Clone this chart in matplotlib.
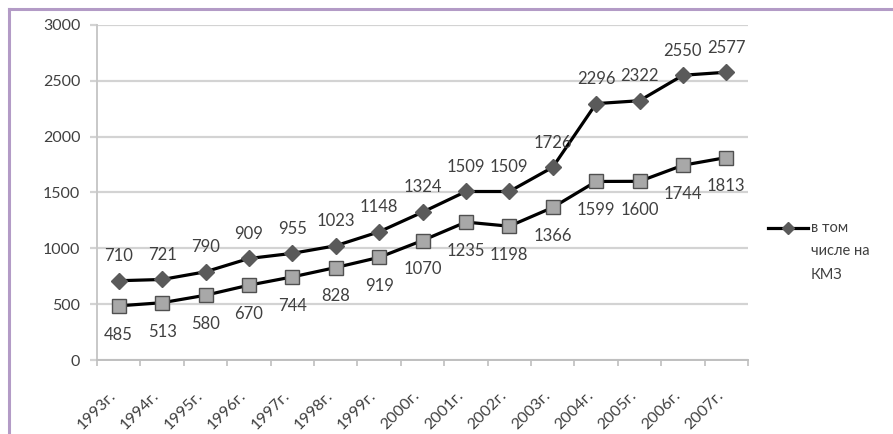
import matplotlib
matplotlib.use("Agg")
import matplotlib.pyplot as plt
import matplotlib.transforms as mtransforms
from matplotlib.lines import Line2D

plt.rcParams['font.family'] = ['Lato', 'DejaVu Sans']

years = ["1993г.", "1994г.", "1995г.", "1996г.", "1997г.", "1998г.", "1999г.",
         "2000г.", "2001г.", "2002г.", "2003г.", "2004г.", "2005г.", "2006г.", "2007г."]
total = [710, 721, 790, 909, 955, 1023, 1148, 1324, 1509, 1509, 1726, 2296, 2322, 2550, 2577]
kmz = [485, 513, 580, 670, 744, 828, 919, 1070, 1235, 1198, 1366, 1599, 1600, 1744, 1813]
legend_lines = ["в том", "числе на", "КМЗ"]
yticks = [0, 500, 1000, 1500, 2000, 2500, 3000]

W, H = 893, 434
fig = plt.figure(figsize=(W / 100, H / 100), dpi=100)
ax = fig.add_axes([97 / W, (H - 360) / H, (748 - 97) / W, (360 - 25) / H])

text_color = "#404040"
grid_color = "#d3d3d3"

x = list(range(len(years)))
ax.plot(x, total, color="black", lw=2.3, marker="D", ms=8,
        mfc="#5a5a5a", mec="#5a5a5a", zorder=3, clip_on=False)
ax.plot(x, kmz, color="black", lw=2.3, marker="s", ms=9.5,
        mfc="#a8a8a8", mec="#505050", mew=1.0, zorder=3, clip_on=False)

for xi, v in zip(x, total):
    ax.annotate(str(v), (xi, v), xytext=(0, 12), textcoords="offset points",
                ha="center", va="bottom", fontsize=12, color=text_color)
for xi, v in zip(x, kmz):
    ax.annotate(str(v), (xi, v), xytext=(0, -15), textcoords="offset points",
                ha="center", va="top", fontsize=12, color=text_color)

ax.set_xlim(-0.5, len(years) - 0.5)
ax.set_ylim(0, 3000)
ax.set_yticks(yticks)
ax.set_yticklabels([str(t) for t in yticks])
ax.yaxis.grid(True, color=grid_color, lw=1.6)
ax.set_axisbelow(True)

ax.set_xticks([i - 0.5 for i in range(len(years) + 1)], minor=False)
ax.set_xticklabels([])
ax.set_xticks(x, minor=True)
ax.set_xticklabels(years, minor=True, rotation=45, ha="right", va="center",
                   rotation_mode="anchor", fontsize=11.5, color=text_color)
ax.tick_params(axis="x", which="major", length=4, color="#bfbfbf", width=1.2)
ax.tick_params(axis="x", which="minor", length=0, pad=24)
ax.tick_params(axis="y", length=5, color=grid_color, width=1.6, pad=7,
               labelsize=11.5, labelcolor=text_color)

# nudge the rotated year labels slightly to the left
shift = mtransforms.ScaledTranslation(-5 / 100, 0, fig.dpi_scale_trans)
for lbl in ax.get_xticklabels(minor=True):
    lbl.set_transform(lbl.get_transform() + shift)

for s in ["top", "right"]:
    ax.spines[s].set_visible(False)
ax.spines["left"].set_color("#c8c8c8")
ax.spines["left"].set_linewidth(1.4)
ax.spines["bottom"].set_color("#bfbfbf")
ax.spines["bottom"].set_linewidth(1.4)

# legend, placed in figure pixels
def fx(px):
    return px / W

def fy(py):
    return 1 - py / H

fig.add_artist(Line2D([fx(768), fx(808)], [fy(228), fy(228)], color="black", lw=2.3,
                      transform=fig.transFigure))
fig.add_artist(Line2D([fx(788)], [fy(228)], marker="D", ms=6.5, mfc="#5a5a5a",
                      mec="#5a5a5a", transform=fig.transFigure))
for i, line in enumerate(legend_lines):
    fig.text(fx(811), fy(228 + 23.5 * i), line, ha="left", va="center",
             fontsize=10.5, color=text_color)

# outer frame on left and top
fig.add_artist(Line2D([fx(8.5), fx(8.5)], [fy(9), 0], color="#b39bc6", lw=2.2,
                      transform=fig.transFigure))
fig.add_artist(Line2D([fx(8.5), 1], [fy(9), fy(9)], color="#b39bc6", lw=2.2,
                      transform=fig.transFigure))

fig.savefig("out.png", dpi=100)
